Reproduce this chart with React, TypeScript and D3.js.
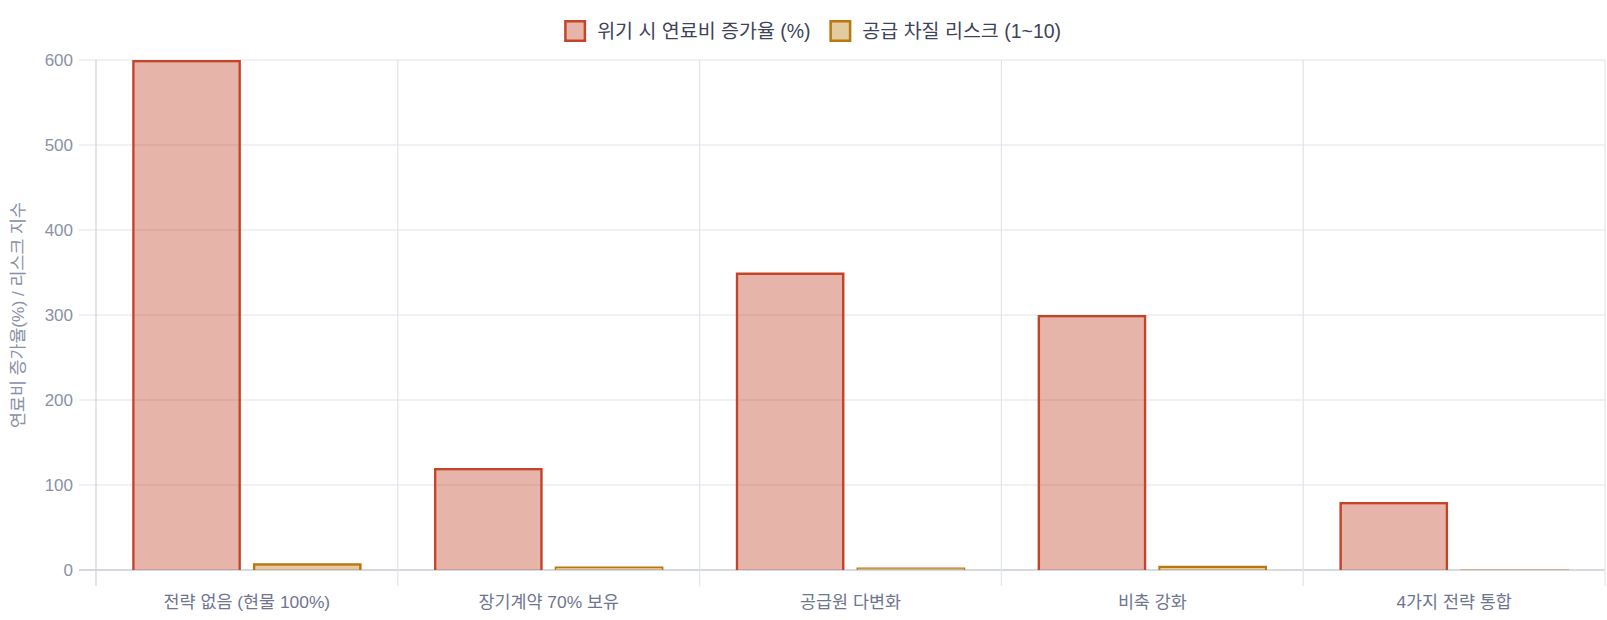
import * as d3 from 'd3';
import { useEffect, useRef } from 'react';

const categories = ['전략 없음 (현물 100%)', '장기계약 70% 보유', '공급원 다변화', '비축 강화', '4가지 전략 통합'];
const costIncrease = [600, 120, 350, 300, 80];
const supplyRisk = [8, 4, 3, 5, 1];
const seriesNames = ['위기 시 연료비 증가율 (%)', '공급 차질 리스크 (1~10)'];
const yTicks = [0, 100, 200, 300, 400, 500, 600];

const WIDTH = 1607;
const HEIGHT = 620;
const FONT = "'Liberation Sans', 'Noto Sans CJK KR', sans-serif";

const fills = ['rgba(196, 68, 42, 0.4)', 'rgba(184, 122, 16, 0.4)'];
const strokes = ['#c4442a', '#b8780f'];

const App = () => {
  const ref = useRef<SVGSVGElement | null>(null);

  useEffect(() => {
    if (!ref.current) return;
    const svg = d3.select(ref.current);
    svg.selectAll('*').remove();

    const margin = { left: 96, right: 2, top: 60, bottom: 50 };
    const x0 = d3
      .scaleBand<string>()
      .domain(categories)
      .range([margin.left, WIDTH - margin.right]);
    const x1 = d3
      .scaleBand<number>()
      .domain([0, 1])
      .range([0, x0.bandwidth() * 0.8]);
    const y = d3
      .scaleLinear()
      .domain([0, 600])
      .range([HEIGHT - margin.bottom, margin.top]);

    const grid = svg.append('g');
    // horizontal grid + ticks
    yTicks.forEach((t) => {
      grid
        .append('line')
        .attr('x1', margin.left - 17)
        .attr('x2', WIDTH - margin.right)
        .attr('y1', y(t))
        .attr('y2', y(t))
        .attr('stroke', t === 0 ? '#c8ccd5' : '#e2e4ec')
        .attr('stroke-width', t === 0 ? 1.5 : 1.2);
      grid
        .append('text')
        .attr('x', margin.left - 23)
        .attr('y', y(t))
        .attr('dy', '0.35em')
        .attr('text-anchor', 'end')
        .attr('font-family', FONT)
        .attr('font-size', 17)
        .attr('fill', '#8a90a8')
        .text(t);
    });
    // vertical grid
    const edges = categories.map((c) => x0(c) as number).concat([WIDTH - margin.right]);
    edges.forEach((ex, i) => {
      grid
        .append('line')
        .attr('x1', ex)
        .attr('x2', ex)
        .attr('y1', margin.top)
        .attr('y2', HEIGHT - margin.bottom + 16)
        .attr('stroke', i === 0 ? '#d0d3dc' : '#e2e4ec')
        .attr('stroke-width', 1.2);
    });

    // bars, border drawn inside like a canvas bar (bottom edge skipped)
    const series = [costIncrease, supplyRisk];
    series.forEach((vals, si) => {
      const bw = x1.bandwidth() * 0.9;
      vals.forEach((v, i) => {
        const bx = (x0(categories[i]) as number) + x0.bandwidth() * 0.1 + (x1(si) as number) + x1.bandwidth() * 0.05;
        const top = y(v);
        const bottom = y(0);
        const h = bottom - top;
        const b = Math.min(2.5, h / 2, bw / 2);
        svg
          .append('rect')
          .attr('x', bx + b)
          .attr('y', top + b)
          .attr('width', bw - 2 * b)
          .attr('height', h - b)
          .attr('fill', fills[si]);
        svg
          .append('path')
          .attr(
            'd',
            `M${bx},${top}H${bx + bw}V${bottom}H${bx}Z M${bx + b},${top + b}V${bottom}H${bx + bw - b}V${top + b}Z`
          )
          .attr('fill-rule', 'evenodd')
          .attr('fill', strokes[si]);
      });
    });

    // x labels
    categories.forEach((c) => {
      svg
        .append('text')
        .attr('x', (x0(c) as number) + x0.bandwidth() / 2)
        .attr('y', HEIGHT - margin.bottom + 32)
        .attr('dy', '0.35em')
        .attr('text-anchor', 'middle')
        .attr('font-family', FONT)
        .attr('font-size', 17.4)
        .attr('fill', '#6f7590')
        .text(c);
    });

    // y title
    svg
      .append('text')
      .attr('transform', `translate(18,${(margin.top + HEIGHT - margin.bottom) / 2}) rotate(-90)`)
      .attr('text-anchor', 'middle')
      .attr('dy', '0.35em')
      .attr('font-family', FONT)
      .attr('font-size', 17.3)
      .attr('fill', '#8a90a8')
      .text('연료비 증가율(%) / 리스크 지수');

    // legend
    const legend = svg.append('g');
    const items = legend.selectAll('g').data(seriesNames).enter().append('g');
    items
      .append('rect')
      .attr('x', 1.25)
      .attr('y', 21.25)
      .attr('width', 19.5)
      .attr('height', 19.5)
      .attr('fill', (_d, i) => fills[i])
      .attr('stroke', (_d, i) => strokes[i])
      .attr('stroke-width', 2.5);
    items
      .append('text')
      .attr('x', 33)
      .attr('y', 31)
      .attr('dy', '0.35em')
      .attr('font-family', FONT)
      .attr('font-size', 19.5)
      .attr('fill', '#3d4358')
      .text((d) => d);
    const widths: number[] = [];
    items.each(function () {
      widths.push((this as SVGGElement).getBBox().width);
    });
    const gap = 20;
    const total = d3.sum(widths) + gap * (widths.length - 1);
    let offset = 812 - total / 2;
    items.attr('transform', (_d, i) => {
      const t = `translate(${offset},0)`;
      offset += widths[i] + gap;
      return t;
    });
  }, []);

  return (
    <svg
      ref={ref}
      width={WIDTH}
      height={HEIGHT}
      style={{ display: 'block', position: 'absolute', left: 0, top: 0 }}
    />
  );
};

export default App;
